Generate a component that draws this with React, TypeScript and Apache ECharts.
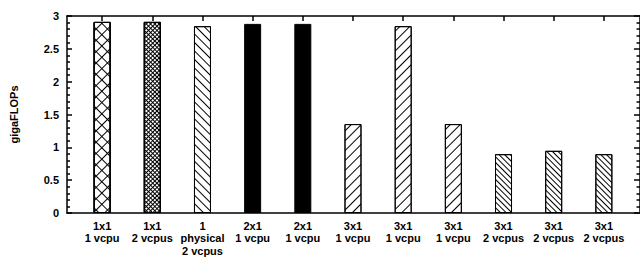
import React, { useEffect, useRef } from "react";
import * as echarts from "echarts";

const categories = [
  "1x1\n1 vcpu",
  "1x1\n2 vcpus",
  "1\nphysical\n2 vcpus",
  "2x1\n1 vcpu",
  "2x1\n1 vcpu",
  "3x1\n1 vcpu",
  "3x1\n1 vcpu",
  "3x1\n1 vcpu",
  "3x1\n2 vcpus",
  "3x1\n2 vcpus",
  "3x1\n2 vcpus",
];
const values = [2.91, 2.91, 2.845, 2.88, 2.88, 1.354, 2.845, 1.354, 0.896, 0.947, 0.896];
const yTicks = [0, 0.5, 1, 1.5, 2, 2.5, 3];

// pattern kind per bar
const patternKinds = [
  "crossSparse",
  "crossDense",
  "backSparse",
  "solid",
  "solid",
  "slashSparse",
  "slashSparse",
  "slashSparse",
  "backDense",
  "backDense",
  "backDense",
];

const FONT = "Liberation Sans";

function decal(rot: number, gap: number, thick = 1) {
  return {
    symbol: "rect",
    symbolSize: 1,
    dashArrayX: [1, 0],
    dashArrayY: [thick, gap],
    rotation: rot,
    color: "#000",
    backgroundColor: "rgba(0,0,0,0)",
  };
}

// "/" and "\" rotations
const SL = -Math.PI / 4;
const BS = Math.PI / 4;

function pts(kind: string) {
  const out: number[][] = [];
  patternKinds.forEach((k, i) => {
    if (k === kind) out.push([i, values[i]]);
  });
  return out;
}

export default function App() {
  const ref = useRef<HTMLDivElement>(null);
  useEffect(() => {
    if (!ref.current) return;
    const chart = echarts.init(ref.current, null, { renderer: "svg" });
    const idx = categories.map((_, i) => i);
    const border = { borderColor: "#000", borderWidth: 1 };
    const mk = (kind: string, fill: string, d: any) => ({
      type: "bar",
      xAxisIndex: 0,
      yAxisIndex: 0,
      barWidth: 17,
      barGap: "-100%",
      data: pts(kind),
      itemStyle: { color: fill, ...border, ...(d ? { decal: d } : {}) },
      emphasis: { disabled: true },
    });
    const axisLine = { show: true, onZero: false, lineStyle: { color: "#000", width: 1.5 } };
    const tickStyle = { color: "#000", width: 1.5 };
    const option: any = {
      animation: false,
      textStyle: { fontFamily: FONT },
      grid: { left: 65, top: 16, width: 577, height: 197 },
      xAxis: [
        {
          type: "value",
          position: "bottom",
          min: -0.7,
          max: 10.72,
          splitLine: { show: false },
          axisLine,
          axisTick: { show: true, inside: true, length: 5, customValues: idx, lineStyle: tickStyle },
          axisLabel: {
            show: true,
            customValues: idx,
            formatter: (v: number) => categories[Math.round(v)] ?? "",
            fontFamily: FONT,
            fontWeight: "bold",
            fontSize: 11,
            lineHeight: 12.3,
            color: "#000",
            margin: 7,
            verticalAlign: "top",
          },
        },
        {
          type: "value",
          position: "top",
          min: -0.7,
          max: 10.72,
          splitLine: { show: false },
          axisLine,
          axisTick: { show: true, inside: true, length: 5, customValues: idx, lineStyle: tickStyle },
          axisLabel: { show: false, customValues: idx },
        },
      ],
      yAxis: [
        {
          type: "value",
          position: "left",
          min: 0,
          max: 3,
          interval: 0.5,
          name: "gigaFLOPs",
          nameLocation: "middle",
          nameGap: 48,
          nameTextStyle: { fontFamily: FONT, fontWeight: "bold", fontSize: 11, color: "#000" },
          splitLine: { show: false },
          axisLine,
          axisTick: { show: true, inside: true, length: 5, lineStyle: tickStyle },
          minorTick: { show: true, splitNumber: 5, length: 3, lineStyle: tickStyle },
          axisLabel: {
            fontFamily: FONT,
            fontWeight: "bold",
            fontSize: 11,
            color: "#000",
            margin: 8,
            customValues: yTicks,
          },
        },
        {
          type: "value",
          position: "right",
          min: 0,
          max: 3,
          interval: 0.5,
          splitLine: { show: false },
          axisLine,
          axisTick: { show: true, inside: true, length: 6, lineStyle: tickStyle },
          minorTick: { show: true, splitNumber: 5, length: 3.5, lineStyle: tickStyle },
          axisLabel: { show: false },
        },
      ],
      series: [
        mk("crossSparse", "#fff", decal(SL, 7)),
        mk("crossSparse", "rgba(0,0,0,0)", decal(BS, 7)),
        mk("crossDense", "#fff", decal(SL, 2)),
        mk("crossDense", "rgba(0,0,0,0)", decal(BS, 2)),
        mk("backSparse", "#fff", decal(BS, 5)),
        mk("solid", "#000", null),
        mk("slashSparse", "#fff", decal(SL, 6)),
        mk("backDense", "#fff", decal(BS, 2.5)),
      ],
    };
    chart.setOption(option);
    return () => chart.dispose();
  }, []);
  return (
    <div
      ref={ref}
      style={{ position: "fixed", left: 0, top: 0, width: 640, height: 259, background: "#fff" }}
    />
  );
}
